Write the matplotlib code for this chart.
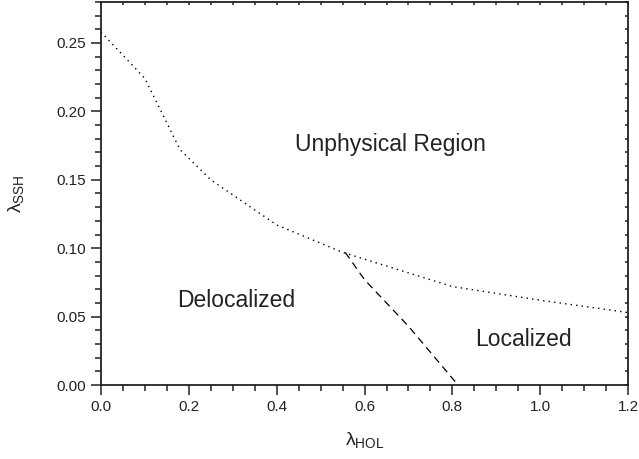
import matplotlib.pyplot as plt
from matplotlib.ticker import MultipleLocator

plt.rcParams["font.family"] = ["Liberation Sans", "DejaVu Sans"]
plt.rcParams["mathtext.fontset"] = "custom"
plt.rcParams["mathtext.rm"] = "Liberation Sans"
plt.rcParams["mathtext.it"] = "Liberation Sans"

# Boundary of the unphysical region (dotted)
unphys_x = [0.0, 0.1, 0.18, 0.25, 0.4, 0.55, 0.6, 0.8, 1.0, 1.2]
unphys_y = [0.258, 0.224, 0.172, 0.150, 0.117, 0.097, 0.092, 0.072, 0.062, 0.053]

# Delocalized / localized boundary (dashed)
loc_x = [0.556, 0.6, 0.7, 0.813]
loc_y = [0.097, 0.077, 0.043, 0.0]

regions = ["Unphysical Region", "Delocalized", "Localized"]
region_x = [0.658, 0.307, 0.961]
region_y = [0.176, 0.062, 0.033]

fig = plt.figure(figsize=(6.39, 4.59), dpi=100)
ax = fig.add_axes([0.158, 0.161, 0.825, 0.835])

ax.plot(unphys_x, unphys_y, color="black", linestyle=(0, (1, 3)), linewidth=1.0)
ax.plot(loc_x, loc_y, color="black", linestyle=(0, (6, 4)), linewidth=0.9)

for name, x, y in zip(regions, region_x, region_y):
    ax.text(x, y, name, ha="center", va="center", fontsize=16.5, color="#222222")

ax.set_xlim(0, 1.2)
ax.set_ylim(0, 0.28)
ax.xaxis.set_major_locator(MultipleLocator(0.2))
ax.xaxis.set_minor_locator(MultipleLocator(0.05))
ax.yaxis.set_major_locator(MultipleLocator(0.05))
ax.yaxis.set_minor_locator(MultipleLocator(0.01))
ax.xaxis.set_major_formatter(lambda v, p: f"{v:.1f}")
ax.yaxis.set_major_formatter(lambda v, p: f"{v:.2f}")

for s in ax.spines.values():
    s.set_linewidth(1.3)
    s.set_color("#222222")

ax.tick_params(which="both", direction="out", top=False, right=False,
               labelsize=11, colors="#222222", width=1.1)
ax.tick_params(which="major", length=7)
ax.tick_params(which="minor", length=4)

# tiny inward ticks on the top and right edges, no labels
axt = ax.secondary_xaxis("top")
axt.xaxis.set_major_locator(MultipleLocator(0.2))
axt.xaxis.set_minor_locator(MultipleLocator(0.05))
axt.tick_params(which="both", direction="in", labeltop=False, width=1.1,
                length=2, colors="#222222")
axt.spines["top"].set_visible(False)
axr = ax.secondary_yaxis("right")
axr.yaxis.set_major_locator(MultipleLocator(0.05))
axr.yaxis.set_minor_locator(MultipleLocator(0.01))
axr.tick_params(which="both", direction="in", labelright=False, width=1.1,
                length=2, colors="#222222")
axr.spines["right"].set_visible(False)

ax.set_xlabel(r"$\lambda_{\mathrm{HOL}}$", fontsize=14, labelpad=12, color="#222222")
ax.set_ylabel(r"$\lambda_{\mathrm{SSH}}$", fontsize=14, labelpad=22, color="#222222")

fig.savefig("out.png", dpi=100)
